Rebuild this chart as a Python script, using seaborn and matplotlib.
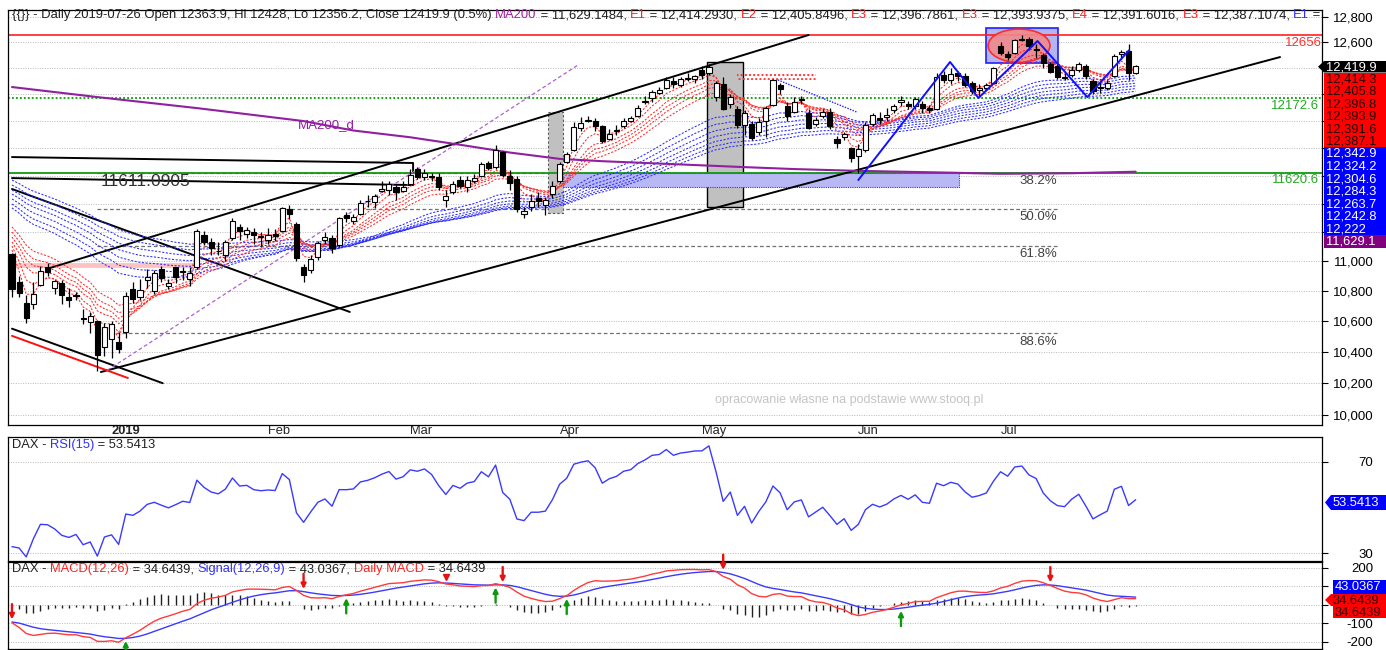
import numpy as np
import pandas as pd
import matplotlib
matplotlib.use("Agg")
import matplotlib.pyplot as plt
import seaborn as sns
from matplotlib.patches import Rectangle, Ellipse, Polygon
from matplotlib.ticker import FixedLocator, FuncFormatter, NullLocator

# ---------------------------------------------------------------- data
holidays = ["2018-12-24", "2018-12-25", "2018-12-26", "2018-12-31", "2019-01-01",
            "2019-04-19", "2019-04-22", "2019-05-01"]
dates = pd.bdate_range("2018-12-06", "2019-07-26", freq="C", holidays=holidays)

opens = [
    11050, 10860, 10720, 10710, 10840, 10960, 10820, 10850, 10760, 10770, 10620, 10595, 10600, 10430,
    10480, 10460, 10530, 10810, 10760, 10870, 10800, 10950, 10830, 10960, 10930, 10880, 10960, 11180,
    11130, 11070, 11040, 11160, 11240, 11190, 11200, 11170,
    11150, 11190, 11210, 11360, 11260, 10960, 10940, 11030, 11150, 11160, 11110, 11320, 11280, 11330,
    11420, 11410, 11490, 11500, 11520, 11490,
    11540, 11650, 11590, 11600, 11590, 11430, 11480, 11570, 11520, 11560, 11600, 11690, 11660, 11770,
    11600, 11580, 11330, 11380, 11440, 11390, 11470,
    11560, 11700, 11790, 11950, 12000, 12000, 11960, 11870, 11930, 11960, 12000, 12040, 12140, 12170,
    12210, 12250, 12300, 12270, 12320, 12320,
    12390, 12360, 12180, 12280, 12130, 12090, 11970, 11980, 11920, 12000, 12120, 12270, 12110, 12070,
    12160, 12060, 11980, 12040, 12070, 11870, 11880, 11800,
    11740, 11790, 11980, 12020, 12030, 12080, 12140, 12130, 12110, 12130, 12100, 12090, 12350, 12310,
    12360, 12340, 12290, 12230, 12250, 12290,
    12570, 12510, 12520, 12620, 12630, 12550, 12500, 12430, 12420, 12330, 12350, 12390, 12420, 12300,
    12250, 12250, 12340, 12510, 12530, 12363.9]
highs = [
    11060, 10900, 10770, 10860, 10970, 10990, 10870, 10870, 10820, 10790, 10680, 10660, 10610, 10590,
    10600, 10530, 10790, 10860, 10880, 10950, 10940, 10970, 10880, 10960, 10960, 10960, 11220, 11210,
    11160, 11130, 11150, 11300, 11260, 11240, 11230, 11200,
    11230, 11220, 11380, 11390, 11270, 10980, 11040, 11140, 11200, 11180, 11310, 11340, 11330, 11430,
    11460, 11470, 11560, 11560, 11530, 11560,
    11650, 11660, 11650, 11620, 11620, 11500, 11560, 11600, 11600, 11610, 11700, 11710, 11820, 11780,
    11640, 11600, 11380, 11470, 11480, 11450, 11560,
    11700, 11770, 11990, 12030, 12040, 12020, 11970, 11940, 11970, 12020, 12040, 12120, 12190, 12230,
    12260, 12330, 12330, 12330, 12360, 12350,
    12420, 12436, 12300, 12330, 12200, 12110, 12080, 12000, 12020, 12110, 12320, 12290, 12140, 12180,
    12190, 12090, 12030, 12090, 12100, 11890, 11920, 11810,
    11830, 11990, 12060, 12070, 12100, 12130, 12190, 12150, 12180, 12150, 12120, 12360, 12380, 12400,
    12380, 12360, 12300, 12280, 12290, 12410,
    12600, 12530, 12630, 12656, 12640, 12590, 12520, 12450, 12430, 12380, 12420, 12450, 12430, 12320,
    12300, 12310, 12510, 12540, 12590, 12428]
lows = [
    10760, 10760, 10590, 10680, 10830, 10900, 10780, 10710, 10690, 10740, 10580, 10520, 10279, 10370,
    10360, 10390, 10490, 10720, 10740, 10820, 10780, 10860, 10810, 10850, 10870, 10830, 10950, 11110,
    11040, 11040, 11000, 11150, 11150, 11160, 11120, 11100,
    11120, 11140, 11200, 11290, 11000, 10860, 10920, 11010, 11120, 11060, 11100, 11270, 11260, 11320,
    11380, 11370, 11480, 11460, 11430, 11480,
    11530, 11580, 11570, 11560, 11500, 11380, 11470, 11510, 11480, 11550, 11590, 11640, 11650, 11590,
    11500, 11340, 11300, 11350, 11380, 11320, 11440,
    11550, 11690, 11780, 11930, 11990, 11930, 11840, 11860, 11900, 11950, 11990, 12030, 12130, 12140,
    12200, 12240, 12250, 12260, 12300, 12290,
    12320, 12350, 12150, 12080, 12100, 11950, 11900, 11860, 11900, 11880, 12110, 12200, 12000, 12060,
    12130, 11940, 11960, 12020, 11940, 11800, 11860, 11700,
    11620, 11770, 11960, 11980, 12000, 12060, 12110, 12090, 12090, 12060, 12060, 12080, 12290, 12280,
    12300, 12260, 12200, 12180, 12230, 12280,
    12500, 12460, 12510, 12610, 12540, 12480, 12400, 12360, 12320, 12310, 12330, 12370, 12320, 12200,
    12210, 12230, 12330, 12470, 12310, 12356.2]
closes = [
    10811, 10788, 10622, 10781, 10931, 10925, 10866, 10772, 10740, 10766, 10611, 10634, 10382, 10559,
    10580, 10417, 10768, 10748, 10804, 10893, 10922, 10887, 10856, 10892, 10931, 10919, 11206, 11136,
    11090, 11072, 11130, 11282, 11210, 11219, 11182, 11173,
    11181, 11177, 11368, 11325, 11022, 10907, 11015, 11126, 11167, 11090, 11300, 11299, 11309, 11402,
    11423, 11458, 11505, 11541, 11487, 11516,
    11602, 11593, 11621, 11588, 11518, 11458, 11543, 11524, 11572, 11587, 11686, 11657, 11788, 11604,
    11550, 11364, 11347, 11419, 11419, 11428, 11526,
    11682, 11754, 11954, 11988, 12010, 11963, 11851, 11906, 11935, 12000, 12020, 12101, 12153, 12222,
    12235, 12313, 12282, 12315, 12328, 12344,
    12345, 12413, 12287, 12093, 12180, 11974, 12060, 11877, 11992, 12100, 12310, 12239, 12041, 12143,
    12169, 11952, 12011, 12071, 11964, 11838, 11902, 11727,
    11793, 11971, 12044, 12010, 12045, 12111, 12156, 12116, 12169, 12096, 12086, 12332, 12309, 12355,
    12340, 12275, 12228, 12245, 12271, 12399,
    12521, 12489, 12616, 12630, 12569, 12544, 12437, 12373, 12332, 12323, 12387, 12431, 12341, 12228,
    12260, 12289, 12491, 12523, 12362, 12419.9]

# moving-average ribbons (Guppy style) with their first-bar values
red_spans = [3, 5, 8, 10, 12, 15]
red_start = [11077, 11105, 11133, 11167, 11202, 11237]
blue_spans = [30, 35, 40, 45, 50, 55, 60]
blue_start = [11371, 11398, 11434, 11469, 11497, 11533, 11569]

# MA200
ma200_days = ["2018-12-06", "2018-12-27", "2019-01-18", "2019-02-08", "2019-02-19", "2019-03-01",
              "2019-03-12", "2019-03-21", "2019-04-01", "2019-04-09", "2019-04-18", "2019-05-02",
              "2019-05-10", "2019-05-21", "2019-06-03", "2019-06-20", "2019-07-01", "2019-07-15",
              "2019-07-26"]
ma200_vals = [12256, 12180, 12097, 12000, 11930, 11880, 11825, 11768, 11722, 11705, 11690, 11675,
              11662, 11648, 11635, 11622, 11614, 11618, 11629]

# indicator settings / first-bar states
rsi_period = 15
rsi_start_gain, rsi_start_loss = 30.0, 61.0
macd_fast, macd_slow, macd_signal = 12, 26, 9
macd_start_fast, macd_start_slow, macd_start_sig = 11202.0, 11298.0, -92.0

fib_high, fib_low = 12455.0, 10272.0
fib_ratios = [0.382, 0.5, 0.618, 0.886]
level_red, level_green_dot, level_green = 12656.0, 12172.6, 11620.6

macd_events = [("2018-12-06", "down"), ("2019-01-04", "up"), ("2019-02-08", "down"),
               ("2019-02-18", "up"), ("2019-03-08", "tri"), ("2019-03-19", "up"),
               ("2019-03-20", "down"), ("2019-04-02", "up"), ("2019-05-07", "down"),
               ("2019-06-11", "up"), ("2019-07-10", "down")]

month_labels = ["2019", "Feb", "Mar", "Apr", "May", "Jun", "Jul"]

# ---------------------------------------------------------------- derived series
opens, highs, lows, closes = map(np.asarray, (opens, highs, lows, closes))
n = len(closes)
xi = np.arange(n)
date_pos = {d.strftime("%Y-%m-%d"): i for i, d in enumerate(dates)}


def ema_seeded(vals, span, seed):
    a = 2.0 / (span + 1.0)
    out = np.empty(len(vals))
    out[0] = seed
    for k in range(1, len(vals)):
        out[k] = out[k - 1] + a * (vals[k] - out[k - 1])
    return out


red_emas = [ema_seeded(closes, s, v) for s, v in zip(red_spans, red_start)]
blue_emas = [ema_seeded(closes, s, v) for s, v in zip(blue_spans, blue_start)]

ag, al = rsi_start_gain, rsi_start_loss
rsi = [100 * ag / (ag + al)]
for k in range(1, n):
    d = closes[k] - closes[k - 1]
    ag = (ag * (rsi_period - 1) + max(d, 0)) / rsi_period
    al = (al * (rsi_period - 1) + max(-d, 0)) / rsi_period
    rsi.append(100 * ag / (ag + al))
rsi = np.array(rsi)

e_f = ema_seeded(closes, macd_fast, macd_start_fast)
e_s = ema_seeded(closes, macd_slow, macd_start_slow)
macd = e_f - e_s
sig = ema_seeded(macd, macd_signal, macd_start_sig)
hist = macd - sig

df = pd.DataFrame({"i": xi, "rsi": rsi, "macd": macd, "sig": sig})

# ---------------------------------------------------------------- figure
sns.set_theme(style="white")
plt.rcParams["font.family"] = ["Liberation Sans", "DejaVu Sans"]
W, H = 1386, 650
fig = plt.figure(figsize=(W / 100, H / 100), dpi=100)


def fx(x):
    return x / W


def fy(y):
    return 1 - y / H


def box(l, t, r, b):
    return [l / W, 1 - b / H, (r - l) / W, (b - t) / H]


axp = fig.add_axes(box(8, 10, 1322, 425))
axr = fig.add_axes(box(8, 437, 1322, 561))
axm = fig.add_axes(box(8, 562, 1322, 649))
axp.set_zorder(3)
XL = (-0.56, 184.2)
GRID = dict(color="#b8b8b8", lw=0.7, ls=(0, (1, 1.5)))

for ax in (axp, axr, axm):
    ax.set_xlim(*XL)
    for s in ax.spines.values():
        s.set_color("black")
        s.set_linewidth(0.9)
    ax.yaxis.tick_right()
    ax.tick_params(axis="y", which="major", direction="out", length=4, width=0.8,
                   labelsize=9.5, pad=33, colors="black")
    ax.set_facecolor("white")

# ---------------- price panel
axp.set_yscale("log")
axp.set_ylim(9938, 12856)
pticks = list(range(10000, 12801, 200))
axp.yaxis.set_major_locator(FixedLocator(pticks))
axp.yaxis.set_minor_locator(NullLocator())
shown = {10000, 10200, 10400, 10600, 10800, 11000, 12600, 12800}
axp.yaxis.set_major_formatter(FuncFormatter(lambda v, p: f"{v:,.0f}" if round(v) in shown else ""))
for v in pticks:
    axp.axhline(v, zorder=0, **GRID)
for t in axp.get_yticklabels():
    t.set_ha("right")

sel = dates[dates >= "2019-01-01"]
month_first = [date_pos[d.strftime("%Y-%m-%d")] for d in pd.Series(sel).groupby(sel.month).first()]
axp.set_xticks(month_first)
axp.set_xticklabels(month_labels, fontsize=9.3)
axp.tick_params(axis="x", direction="out", length=4, width=0.8, pad=-3.8)
for k, t in enumerate(axp.get_xticklabels()):
    t.set_ha("left")
    if k == 0:
        t.set_fontweight("bold")

# fib and horizontal levels
fib_x0, fib_x1 = 12, 147
for r in fib_ratios:
    lv = fib_high - r * (fib_high - fib_low)
    axp.plot([fib_x0, fib_x1], [lv, lv], color="#707070", lw=0.9, ls=(0, (3, 2)), zorder=1)
    axp.text(fib_x1, lv * 0.9985, f"{r * 100:.1f}%", color="#404040", fontsize=9.5,
             ha="right", va="top", zorder=6)

axp.axhline(level_red, color="#ff2020", lw=1.2, zorder=2)
axp.axhline(level_green_dot, color="#00a000", lw=1.3, ls=(0, (1, 1.2)), zorder=2)
axp.axhline(level_green, color="#119911", lw=1.3, zorder=2)
axp.text(1.0, level_red * 0.999, "12656", color="#ff3030", fontsize=9.5, ha="right", va="top",
         transform=axp.get_yaxis_transform())
axp.text(0.998, level_green_dot * 0.999, "12172.6", color="#22aa22", fontsize=9.5, ha="right",
         va="top", transform=axp.get_yaxis_transform())
axp.text(0.998, level_green * 0.999, "11620.6", color="#22aa22", fontsize=9.5, ha="right",
         va="top", transform=axp.get_yaxis_transform())

# shaded zones and drawing-tool objects (bar number, price)
axp.add_patch(Rectangle((75.4, 11334), 2.1, 12067 - 11334, facecolor="#c0c0c0",
                        edgecolor="#555555", lw=0.8, ls=(0, (2, 2)), zorder=1))
axp.add_patch(Rectangle((97.7, 11376), 5.1, 12448 - 11376, facecolor="#c0c0c0",
                        edgecolor="black", lw=1.0, zorder=1))
axp.add_patch(Rectangle((77.5, 11519), 55.6, 11620 - 11519, facecolor="#b8b8f4",
                        edgecolor="#3030ff", lw=0.8, ls=(0, (1, 1)), zorder=1))
axp.add_patch(Rectangle((137.0, 12440), 10.1, 12713 - 12440, facecolor="#b4b4f0",
                        edgecolor="#2020ff", lw=1.2, zorder=1))
axp.add_patch(Ellipse((141.6, 12575), 8.7, 260, facecolor="#f08a8a", edgecolor="#ff2020",
                      lw=1.2, alpha=0.9, zorder=2))
axp.add_patch(Rectangle((102.0, 12310), 11.0, 45, facecolor="none", edgecolor="#ff3030",
                        hatch="....", lw=0, zorder=2))

lines_black = [
    [(5.3, 10954), (112.0, 12658)],            # upper channel
    [(12.5, 10270), (178.3, 12486)],           # lower channel
    [(0.0, 11505), (47.5, 10660)],             # falling line
    [(0.0, 10550), (21.2, 10199)],             # falling line (lower)
    [(0.0, 11735), (56.4, 11692), (56.4, 11627)],
    [(0.0, 11583), (56.4, 11533)],
]
for pts in lines_black:
    xs, ys = zip(*pts)
    axp.plot(xs, ys, color="black", lw=1.4, zorder=3)
axp.plot([0.0, 16.3], [10503, 10232], color="#ff1010", lw=1.4, zorder=3)
axp.plot([13.4, 79.6], [10281, 12425], color="#b060d0", lw=0.9, ls=(0, (3, 2)), zorder=3)
axp.plot([-0.5, 25.7], [10974, 10974], color="#ff9090", lw=3.5, alpha=0.55, zorder=2)
axp.plot([107.7, 118.8], [12310, 12067], color="#2020ff", lw=1.0, ls=(0, (1, 1)), zorder=3)
zig_x = [119.0, 131.9, 135.9, 144.2, 151.2, 157.1]
zig_y = [11569, 12448, 12173, 12611, 12180, 12541]
axp.plot(zig_x, zig_y, color="#1010ff", lw=1.4, zorder=6)

# ribbons
for vals in blue_emas:
    sns.lineplot(x=xi, y=vals, ax=axp, color="#2a2aff", lw=0.75, linestyle=(0, (2, 1.5)),
                 estimator=None, zorder=3)
for vals in red_emas:
    sns.lineplot(x=xi, y=vals, ax=axp, color="#ff2a2a", lw=0.75, linestyle=(0, (2, 1.5)),
                 estimator=None, zorder=3)

# MA200
ma_x = [date_pos[d] for d in ma200_days]
sns.lineplot(x=ma_x, y=ma200_vals, ax=axp, color="#9020a0", lw=1.5, estimator=None, zorder=3)

# candles
up = closes >= opens
lo_b = np.minimum(opens, closes)
hi_b = np.maximum(opens, closes)
axp.vlines(xi, lows, highs, color="black", lw=0.9, zorder=4)
axp.bar(xi[up], (hi_b - lo_b)[up], bottom=lo_b[up], width=0.72, color="white",
        edgecolor="black", lw=0.8, zorder=5)
axp.bar(xi[~up], (hi_b - lo_b)[~up], bottom=lo_b[~up], width=0.72, color="black",
        edgecolor="black", lw=0.8, zorder=5)

axp.set_xlabel("")
axp.set_ylabel("")
axp.text(fx(298), fy(125), "MA200_d", color="#9020a0", fontsize=9.5, va="center",
         transform=fig.transFigure)
axp.text(12.4, 11562, "11611.0905", color="#303030", fontsize=12.5, va="center", zorder=6)
axp.text(fx(715), fy(400), "opracowanie własne na podstawie www.stooq.pl", color="#c4c4c4",
         fontsize=9, va="center", transform=fig.transFigure)


def chain(x, y, parts, size):
    t = axp.annotate(parts[0][0], xy=(x, y), xycoords="figure fraction", color=parts[0][1],
                     fontsize=size, va="bottom", ha="left", annotation_clip=False)
    for s, c in parts[1:]:
        t = axp.annotate(s, xy=(1, 0), xycoords=t, color=c, fontsize=size, va="bottom",
                         ha="left", annotation_clip=False)


BLK, RED, BLU, PUR = "#202020", "#ff2020", "#3030ff", "#a020a0"
chain(fx(12), fy(21), [
    ("{{}} - Daily 2019-07-26 Open 12363.9, Hi 12428, Lo 12356.2, Close 12419.9 (0.5%) ", BLK),
    ("MA200", PUR), (" = 11,629.1484, ", BLK), ("E1", RED), (" = 12,414.2930, ", BLK),
    ("E2", RED), (" = 12,405.8496, ", BLK), ("E3", RED), (" = 12,396.7861, ", BLK),
    ("E3", RED), (" = 12,393.9375, ", BLK), ("E4", RED), (" = 12,391.6016, ", BLK),
    ("E3", RED), (" = 12,387.1074, ", BLK), ("E1", BLU), (" =", BLK)], 9.4)

# ---------------- RSI panel
axr.set_ylim(26.7, 80.9)
axr.yaxis.set_major_locator(FixedLocator([30, 70]))
axr.set_xticks([])
for v in (30, 70):
    axr.axhline(v, zorder=0, **GRID)
sns.lineplot(data=df, x="i", y="rsi", ax=axr, color="#3a3aff", lw=1.0, estimator=None)
axr.set_xlabel("")
axr.set_ylabel("")
for t in axr.get_yticklabels():
    t.set_ha("right")
chain(fx(12), fy(451), [("DAX - ", BLK), ("RSI(15)", BLU), (" = 53.5413", BLK)], 9.3)

# ---------------- MACD panel
axm.set_ylim(-238, 232)
axm.yaxis.set_major_locator(FixedLocator([-200, -100, 0, 100, 200]))
axm.set_xticks([])
for v in (-200, -100, 0, 100, 200):
    axm.axhline(v, zorder=0, **GRID)
axm.vlines(xi, 0, hist, color="#202020", lw=1.0, zorder=2)
sns.lineplot(data=df, x="i", y="sig", ax=axm, color="#3a3aff", lw=1.0, estimator=None, zorder=3)
sns.lineplot(data=df, x="i", y="macd", ax=axm, color="#ff3a3a", lw=1.0, estimator=None, zorder=4)
axm.set_xlabel("")
axm.set_ylabel("")
axm.set_yticklabels(["-200", "-100", "", "", "200"])
for t in axm.get_yticklabels():
    t.set_ha("right")
chain(fx(12), fy(575), [("DAX - ", BLK), ("MACD(12,26)", RED), (" = 34.6439, ", BLK),
                        ("Signal(12,26,9)", BLU), (" = 43.0367, ", BLK), ("Daily MACD", RED),
                        (" = 34.6439", BLK)], 9.3)

ARW = dict(arrowstyle="-|>", lw=1.7, mutation_scale=7, shrinkA=0, shrinkB=0)
for d, kind in macd_events:
    k = date_pos[d]
    hi_v = max(macd[k], sig[k])
    lo_v = min(macd[k], sig[k])
    if kind == "up":
        axm.annotate("", xy=(k, lo_v - 14), xytext=(0, -11), textcoords="offset points",
                     arrowprops=dict(color="#0a9a0a", **ARW), annotation_clip=False, zorder=6)
    elif kind == "down":
        axm.annotate("", xy=(k, hi_v + 14), xytext=(0, 11), textcoords="offset points",
                     arrowprops=dict(color="#e81010", **ARW), annotation_clip=False, zorder=6)
    else:
        axm.plot([k], [hi_v + 30], marker="v", color="#e81010", ms=5, zorder=6)


# ---------------- right-hand value labels (stacked boxes)
def flag(y0, y1, face, text, tcol, tip=True, x0=1324):
    pts = [(x0, y0), (1386, y0), (1386, y1), (x0, y1)]
    if tip:
        pts = [(x0 - 6, (y0 + y1) / 2)] + pts
    fig.patches.append(Polygon([(fx(a), fy(b)) for a, b in pts], closed=True, facecolor=face,
                               edgecolor="none", transform=fig.transFigure, figure=fig, zorder=10))
    fig.text(fx(x0 + 2), fy((y0 + y1) / 2 + 0.5), text, color=tcol, fontsize=9.3, va="center",
             ha="left", zorder=11)


flag(61, 72.5, "black", "12,419.9", "white")
red_lbl = ["12,414.3", "12,405.8", "12,396.8", "12,393.9", "12,391.6", "12,387.1"]
blue_lbl = ["12,342.9", "12,324.2", "12,304.6", "12,284.3", "12,263.7", "12,242.8", "12,222"]
for k, s in enumerate(red_lbl):
    flag(72.5 + 12.45 * k, 72.5 + 12.45 * (k + 1), "#ff0000", s, "#200000", tip=False)
for k, s in enumerate(blue_lbl):
    flag(147.2 + 12.55 * k, 147.2 + 12.55 * (k + 1), "#0000ff", s, "white", tip=False)
flag(235, 247.5, "#800080", "11,629.1", "white", tip=False)

flag(495, 510, "#0000ff", "53.5413", "white", x0=1331)
flag(580, 594, "#0000ff", "43.0367", "white", tip=False, x0=1333)
flag(594, 606, "#ff0000", "34.6439", "#300000", x0=1331)
flag(606, 618, "#ff0000", "34.6439", "#300000", tip=False, x0=1333)

fig.savefig("out.png", dpi=100, facecolor="white")
